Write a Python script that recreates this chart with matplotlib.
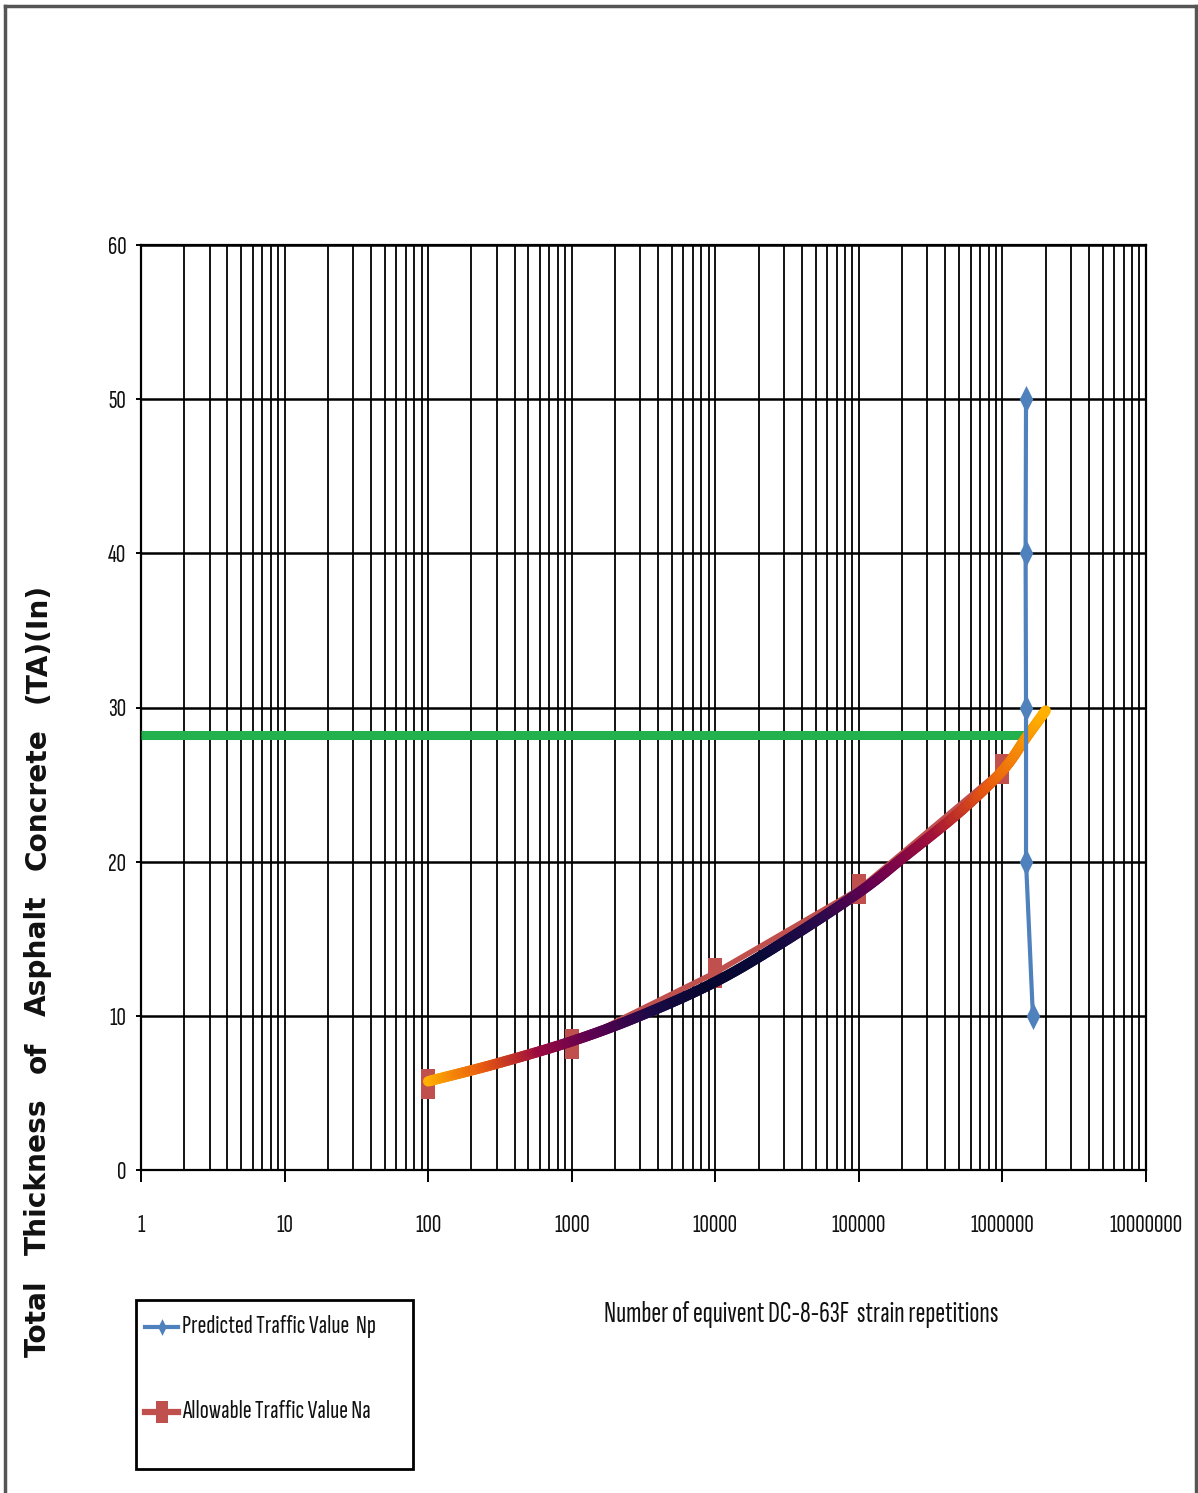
import matplotlib
matplotlib.use('Agg')
import matplotlib.pyplot as plt
import numpy as np
from matplotlib import font_manager
from matplotlib.collections import LineCollection
from matplotlib.colors import LinearSegmentedColormap
from matplotlib.lines import Line2D
from matplotlib.patches import Rectangle
from matplotlib.ticker import FixedLocator, FixedFormatter, LogLocator, NullFormatter

installed = set(f.name for f in font_manager.fontManager.ttflist)


def pick(prefs):
    return [next((n for n in prefs if n in installed), 'DejaVu Sans'), 'DejaVu Sans']


NARROW = pick(['Sofia Sans Extra Condensed', 'Saira ExtraCondensed', 'Fira Sans Extra Condensed',
               'Barlow Condensed', 'Archivo Narrow', 'Liberation Sans Narrow'])
WIDE = ['DejaVu Sans']

# predicted traffic (Np) vs thickness
np_reps = [1.46e6, 1.45e6, 1.46e6, 1.46e6, 1.63e6]
np_ta = [50, 40, 30, 20, 10]

# allowable traffic (Na) vs thickness
na_reps = [1e2, 1e3, 1e4, 1e5, 1e6]
na_ta = [5.6, 8.2, 12.8, 18.2, 26.0]

# smoothed Na trend curve
trend_reps = [1e2, 3e2, 1e3, 3e3, 1e4, 3e4, 1e5, 2e5, 5e5, 1e6, 1.45e6, 2e6]
trend_ta = [5.75, 6.9, 8.35, 10.0, 12.2, 14.8, 18.0, 20.2, 23.2, 25.9, 28.0, 29.8]

# design thickness and where it meets Np
design_ta = 28.2
design_reps = 1.54e6

x_ticks = [1, 10, 100, 1000, 10000, 100000, 1000000, 10000000]
x_labels = ['1', '10', '100', '1000', '10000', '100000', '1000000', '10000000']
y_ticks = [0, 10, 20, 30, 40, 50, 60]
legend_labels = ['Predicted Traffic Value  Np', 'Allowable Traffic Value Na']
ylabel_words = ['Total', 'Thickness', 'of', 'Asphalt', 'Concrete', '(TA)(In)']

W, H = 1198, 1493


def fx(px):
    return px / W


def fy(py):
    return 1 - py / H


def catmull_rom(px, py, n=30):
    # smooth curve through the given points (like a spreadsheet "smoothed line")
    P = np.column_stack([np.asarray(px, float), np.asarray(py, float)])
    P = np.vstack([2 * P[0] - P[1], P, 2 * P[-1] - P[-2]])
    out = []
    s = np.linspace(0, 1, n, endpoint=False)[:, None]
    for i in range(1, len(P) - 2):
        p0, p1, p2, p3 = P[i - 1], P[i], P[i + 1], P[i + 2]
        out.append(0.5 * ((2 * p1) + (-p0 + p2) * s + (2 * p0 - 5 * p1 + 4 * p2 - p3) * s ** 2
                          + (-p0 + 3 * p1 - 3 * p2 + p3) * s ** 3))
    out.append(P[-2][None, :])
    return np.vstack(out)


fig = plt.figure(figsize=(W / 100, H / 100), dpi=100)
renderer = fig.canvas.get_renderer()


def text_width(text, family, size, weight='normal'):
    probe = fig.text(0, 0, text, family=family, fontsize=size, fontweight=weight)
    w = probe.get_window_extent(renderer).width
    probe.remove()
    return w


def size_for(text, family, target, weight='normal'):
    # font size that makes `text` span `target` pixels
    return 20 * target / text_width(text, family, 20, weight)


tick_fs = size_for('10000000', NARROW, 74)
xlab_fs = size_for('Number of equivent DC-8-63F  strain repetitions', NARROW, 394)
leg_fs = size_for(legend_labels[0], NARROW, 194)
ylab_fs = size_for('Thickness', WIDE, 156, weight='bold')

ax = fig.add_axes([fx(141), fy(1170), 1005 / W, 925 / H])
ax.set_xscale('log')
ax.set_xlim(1, 1e7)
ax.set_ylim(0, 60)

ax.xaxis.set_major_locator(FixedLocator(x_ticks))
ax.xaxis.set_major_formatter(FixedFormatter(x_labels))
ax.xaxis.set_minor_locator(LogLocator(base=10, subs=range(2, 10), numticks=20))
ax.xaxis.set_minor_formatter(NullFormatter())
ax.set_yticks(y_ticks)

ax.grid(True, which='both', axis='x', color='black', lw=1.3, zorder=0)
ax.grid(True, which='major', axis='y', color='black', lw=1.8, zorder=0)
ax.set_axisbelow(True)
for sp in ax.spines.values():
    sp.set_linewidth(1.6)
ax.tick_params(axis='x', which='major', length=8.5, width=1.4, pad=23)
ax.tick_params(axis='x', which='minor', length=0)
ax.tick_params(axis='y', length=3.5, width=1.4, pad=7)
for lab in ax.get_xticklabels() + ax.get_yticklabels():
    lab.set_family(NARROW)
    lab.set_fontsize(tick_fs)
    lab.set_color('#111111')

# design thickness line
ax.plot([1, design_reps], [design_ta, design_ta], color='#22b14c', lw=6.5,
        solid_capstyle='butt', zorder=3)

# Na series
rect = [(-0.5, -1), (0.5, -1), (0.5, 1), (-0.5, 1), (-0.5, -1)]
ax.plot(na_reps, na_ta, color='#c0504d', lw=4, marker=rect, markersize=21,
        markeredgewidth=0, zorder=4)

# trend curve with a colour gradient along its length
cmap = LinearSegmentedColormap.from_list('trend', [
    '#ffb000', '#e85a10', '#9a0a40', '#5a0050', '#1c0a48', '#06062e',
    '#0a0a3a', '#2a0a4c', '#6a0050', '#a0103a', '#e85a10', '#ffb000'])
pts = catmull_rom(np.log10(trend_reps), trend_ta)
xy = np.column_stack([10 ** pts[:, 0], pts[:, 1]])
segs = np.stack([xy[:-1], xy[1:]], axis=1)
t = (pts[:-1, 0] - pts[0, 0]) / (pts[-1, 0] - pts[0, 0])
ax.add_collection(LineCollection(segs, colors=cmap(t), linewidths=7.5,
                                 capstyle='round', zorder=5))

# Np series
diamond = [(0, 1), (0.5, 0), (0, -1), (-0.5, 0), (0, 1)]
ax.plot(np_reps, np_ta, color='#4f81bd', lw=3, marker=diamond, markersize=19.5,
        markeredgewidth=0, zorder=6)

fig.text(fx(801), fy(1315), 'Number of equivent DC-8-63F  strain repetitions',
         family=NARROW, fontsize=xlab_fs, ha='center', va='center', color='#111111')

# widely tracked vertical axis title: words spread evenly from y=1357 up to y=583
lens = [text_width(w, WIDE, ylab_fs, 'bold') for w in ylabel_words]
gap = (1357 - 583 - sum(lens)) / (len(ylabel_words) - 1)
pos = 1357.0
for word, ln in zip(ylabel_words, lens):
    fig.text(fx(38), fy(pos - ln / 2), word, family=WIDE, fontweight='bold', fontsize=ylab_fs,
             rotation=90, ha='center', va='center', color='#111111')
    pos -= ln + gap

# legend
fig.patches.append(Rectangle((fx(136), fy(1469)), 277 / W, 169 / H,
                             transform=fig.transFigure, fill=False,
                             edgecolor='black', lw=2))
legend_styles = [
    dict(color='#4f81bd', lw=3, marker=diamond, markersize=12),
    dict(color='#c0504d', lw=4.5, marker=rect, markersize=16),
]
for label, style, yy in zip(legend_labels, legend_styles, [1327, 1412]):
    fig.add_artist(Line2D([fx(145), fx(161.5), fx(178)], [fy(yy)] * 3,
                          transform=fig.transFigure, markevery=[1],
                          markeredgewidth=0, **style))
    fig.text(fx(182), fy(yy), label, family=NARROW, fontsize=leg_fs,
             ha='left', va='center', color='#111111')

# outer frame
for xs, ys in [([5, 5], [H, 6]), ([5, 1196], [6, 6]), ([1196, 1196], [6, H])]:
    fig.add_artist(Line2D([fx(x) for x in xs], [fy(y) for y in ys],
                          transform=fig.transFigure, color='#555555', lw=2.5))

fig.savefig('out.png', dpi=100)
